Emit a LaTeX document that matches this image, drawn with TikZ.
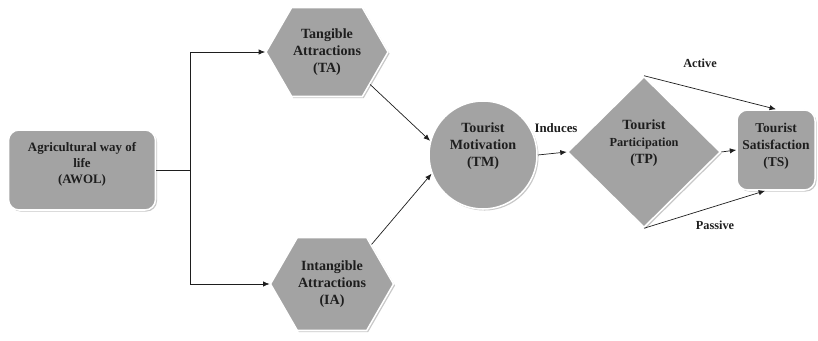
\documentclass[tikz,border=0pt]{standalone}
\usepackage{fontspec}
\setmainfont{Liberation Serif}
\usetikzlibrary{shapes.geometric,shapes.symbols,shadows,arrows.meta}
\definecolor{boxGray}{RGB}{163,163,163}
\definecolor{shadowGray}{RGB}{200,200,200}
\definecolor{inkDark}{RGB}{30,30,30}

% an empty last line that lifts the text block
\newcommand{\liftby}[1]{\\[#1]\mbox{}}

\tikzset{
  shapebase/.style={fill=boxGray, draw=white, line width=1.3pt, text=inkDark,
    drop shadow={shadow xshift=1.3pt, shadow yshift=-1.3pt, fill=shadowGray, opacity=1},
    font=\bfseries\fontsize{12}{14.5}\selectfont, align=center, inner sep=0pt},
  roundbox/.style={shapebase, rectangle, rounded corners=9pt},
  hexbox/.style={shapebase, signal, signal to=east and west, signal from=nowhere,
    signal pointer angle=120},
  circbox/.style={shapebase, circle},
  diabox/.style={shapebase, diamond, aspect=1},
  link/.style={-{Latex[length=5.5pt,width=4.5pt]}, line width=0.6pt, draw=inkDark},
  edgetext/.style={font=\bfseries\fontsize{10.5}{12}\selectfont, text=inkDark}
}

\begin{document}
\begin{tikzpicture}[x=0.03cm, y=-0.03cm]
        \useasboundingbox (0,0) rectangle (818,341);

        % source
        \node[roundbox, minimum width=4.41cm, minimum height=2.4cm,
              font=\bfseries\fontsize{11}{14}\selectfont] (AWOL) at (82,170)
            {Agricultural way of\\life\\(AWOL)\liftby{-2pt}};

        % attractions
        \node[hexbox, minimum width=3.66cm, minimum height=2.67cm] (TA) at (327,52)
            {Tangible\\Attractions\\(TA)};
        \node[hexbox, minimum width=3.69cm, minimum height=2.79cm] (IA) at (332,284)
            {Intangible\\Attractions\\(IA)};

        % motivation
        \node[circbox, minimum size=3.24cm] (TM) at (483,155)
            {Tourist\\Motivation\\(TM)\liftby{4pt}};

        % participation
        \node[diabox, minimum width=4.59cm, minimum height=4.53cm] (TP) at (644,152)
            {Tourist\\{\fontsize{10.5}{12}\selectfont Participation}\\(TP)\liftby{4pt}};

        % satisfaction
        \node[roundbox, minimum width=2.34cm, minimum height=2.4cm,
              font=\bfseries\fontsize{11.5}{14.5}\selectfont] (TS) at (776,150)
            {Tourist\\Satisfaction\\(TS)\liftby{-6pt}};

        % edge labels
        \node[edgetext, font=\bfseries\fontsize{11}{12}\selectfont] (induces) at (556,128) {Induces};
        \node[edgetext] (active) at (700,63) {Active};
        \node[edgetext] (passive) at (715,225) {Passive};

        % connectors
        \coordinate (split) at (190,170);
        \draw[line width=0.6pt, draw=inkDark] (AWOL.east) -- (split);
        \draw[link] (split) |- (TA.west);
        \draw[link] (split) |- (IA.west);
        \draw[link] (TA.-37) -- (TM.165);
        \draw[link] (IA.45) -- (TM.200);
        \draw[link] (TM.east) -- (TP.west);
        \draw[link] (TP.north) -- (TS.north);
        \draw[link] (TP.east) -- (TS.west);
        \draw[link] (TP.south) -- (TS.-105);

    \end{tikzpicture}
\end{document}
